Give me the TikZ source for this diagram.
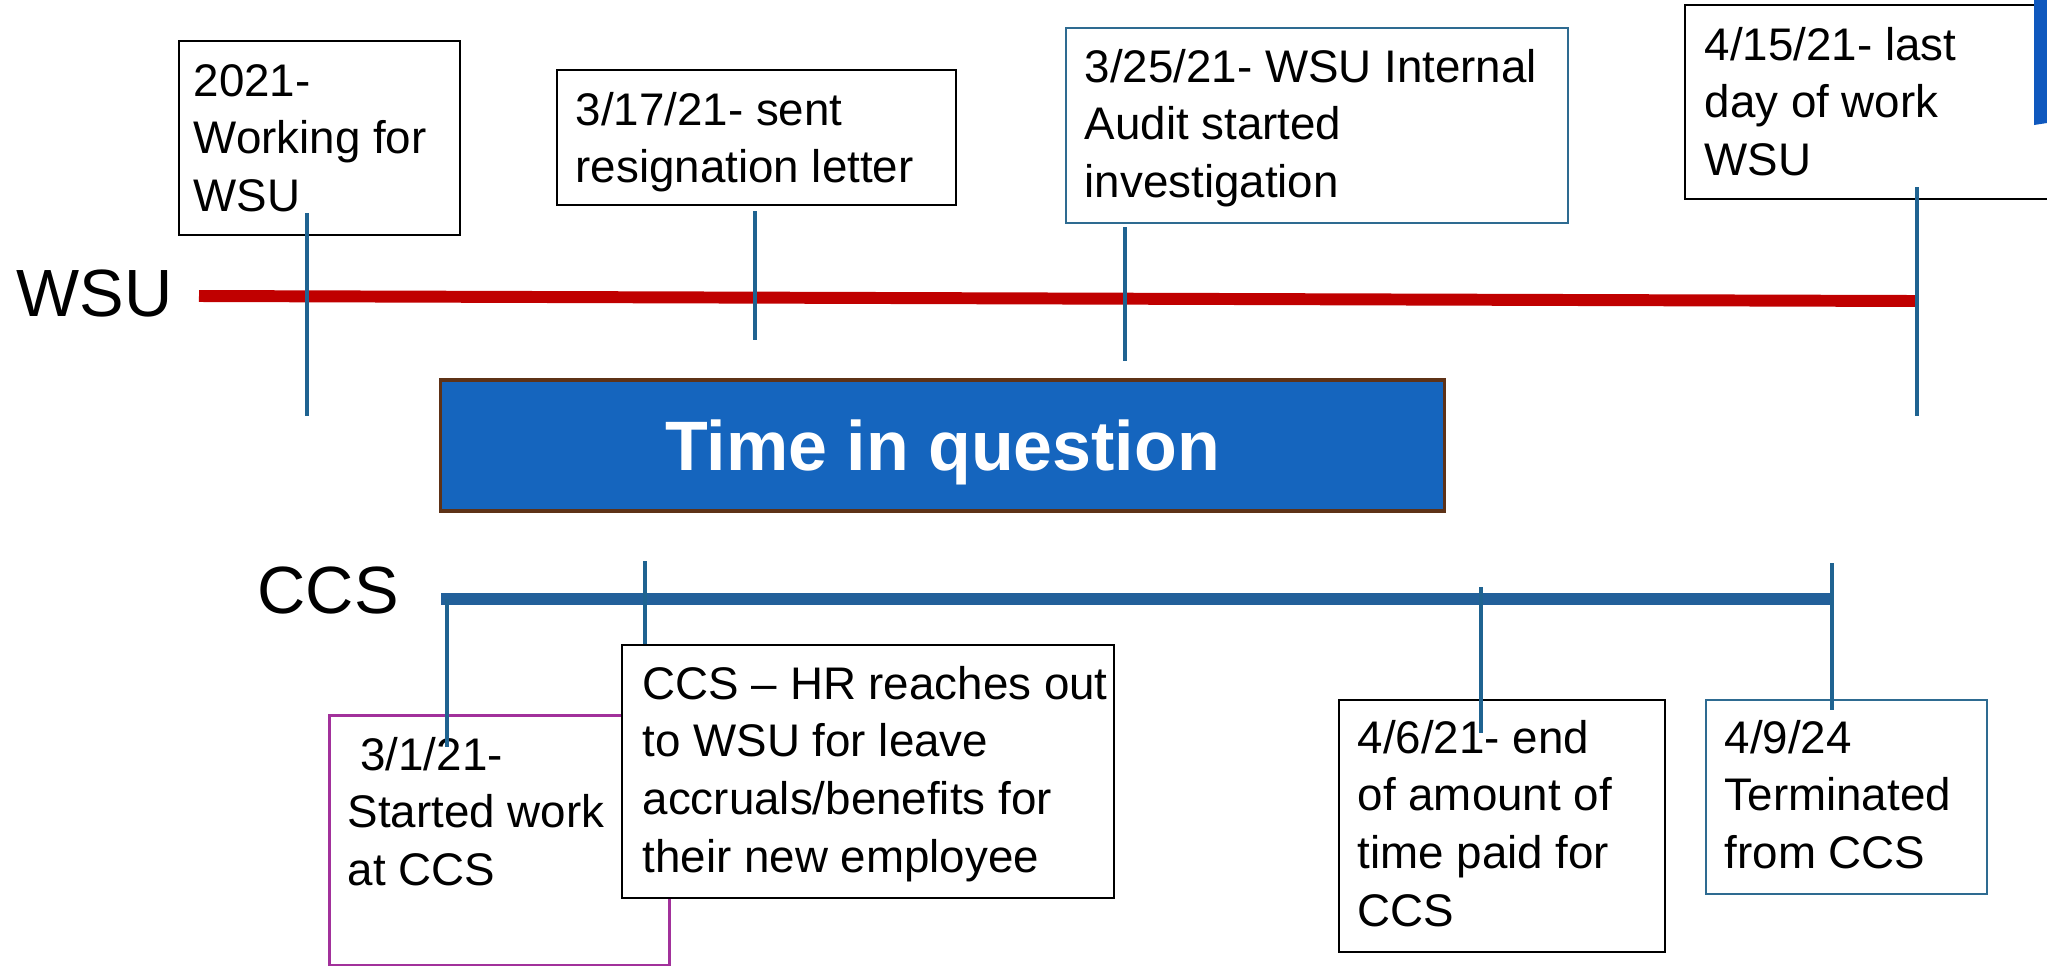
\documentclass[tikz,border=0pt]{standalone}
\usepackage{fontspec}
\setmainfont{Liberation Sans}
\usepackage{xcolor}
\usepackage{tikz}
\usetikzlibrary{positioning}

\definecolor{wsured}{HTML}{C00000}
\definecolor{ccsblue}{HTML}{22609A}
\definecolor{tickblue}{HTML}{1F6391}
\definecolor{steel}{HTML}{2E6B91}
\definecolor{qblue}{HTML}{1565BE}
\definecolor{qbrown}{HTML}{5E3217}
\definecolor{plum}{HTML}{A2319B}
\definecolor{cornerblue}{HTML}{0F58BE}

\newcommand{\evfont}{\fontsize{13}{16.4}\selectfont}

\begin{document}
\begin{tikzpicture}[
  x=0.01cm, y=-0.01cm,
  evbox/.style={rectangle, draw, line width=0.6pt, fill=white, anchor=north west, inner sep=0pt},
  evtext/.style={anchor=north west, inner sep=0pt, align=left, font=\evfont},
  qbox/.style={rectangle, draw=qbrown, fill=qblue, line width=0.95pt, minimum width=10.03cm, minimum height=1.31cm,
    inner sep=0pt, text=white, font=\fontsize{19.9}{23}\selectfont\bfseries, text height=14.2pt, text depth=0pt},
  lane/.style={anchor=base west, inner sep=0pt, font=\fontsize{19}{22}\selectfont},
  track/.style={line width=3.4pt},
  tick/.style={tickblue, line width=1.15pt}
]
  \useasboundingbox (0,0) rectangle (2047,966);
  \clip (0,0) rectangle (2047,966);

  % lane names
  \node[lane] (wsu) at (16,316) {WSU};
  \node[lane] (ccs) at (257,613) {CCS};

  % WSU events
  \node[evbox, minimum width=2.81cm, minimum height=1.94cm] (work) at (178,40) {};
  \node[evtext] (worktxt) at (193,55) {\strut 2021-\\Working for\\WSU};
  \node[evbox, minimum width=3.99cm, minimum height=1.35cm] (resign) at (556,69) {};
  \node[evtext] (resigntxt) at (575,84) {\strut 3/17/21- sent\\resignation letter};
  \node[evbox, draw=steel, minimum width=5.02cm, minimum height=1.95cm] (audit) at (1065,27) {};
  \node[evtext] (audittxt) at (1084,41) {\strut 3/25/21- WSU Internal\\Audit started\\investigation};
  \node[evbox, minimum width=4.0cm, minimum height=1.94cm] (lastday) at (1684,4) {};
  \node[evtext] (lastdaytxt) at (1704,19) {\strut 4/15/21- last\\day of work\\WSU};
  \fill[cornerblue] (2034,0) -- (2060,0) -- (2060,121) -- (2034,125) -- cycle;

  % CCS events
  \node[evbox, draw=plum, line width=0.85pt, minimum width=3.4cm, minimum height=2.5cm] (start) at (328,714) {};
  \node[evtext] (starttxt) at (347,729) {\strut\ 3/1/21-\\Started work\\at CCS};
  \node[evbox, minimum width=4.92cm, minimum height=2.53cm] (hr) at (621,644) {};
  \node[evtext] (hrtxt) at (642,658) {\strut CCS -- HR reaches out\\to WSU for leave\\accruals/benefits for\\their new employee};
  \node[evbox, minimum width=3.26cm, minimum height=2.52cm] (paid) at (1338,699) {};
  \node[evtext] (paidtxt) at (1357,712) {\strut 4/6/21- end\\of amount of\\time paid for\\CCS};
  \node[evbox, draw=steel, minimum width=2.81cm, minimum height=1.94cm] (term) at (1705,699) {};
  \node[evtext] (termtxt) at (1724,712) {\strut 4/9/24\\Terminated\\from CCS};

  \node[qbox] (tiq) at (942.5,445.5) {Time in question};

  % tracks
  \draw[track, wsured] (199,296) -- (1917,301);
  \draw[track, ccsblue] (441,599) -- (1832,599);

  % ticks
  \foreach \x/\a/\b in {307/213/416, 755/211/340, 1125/227/361, 1917/187/416,
                        447/599/747, 645/561/644, 1481/587/733, 1832/563/710}
    \draw[tick] (\x,\a) -- (\x,\b);
\end{tikzpicture}
\end{document}
